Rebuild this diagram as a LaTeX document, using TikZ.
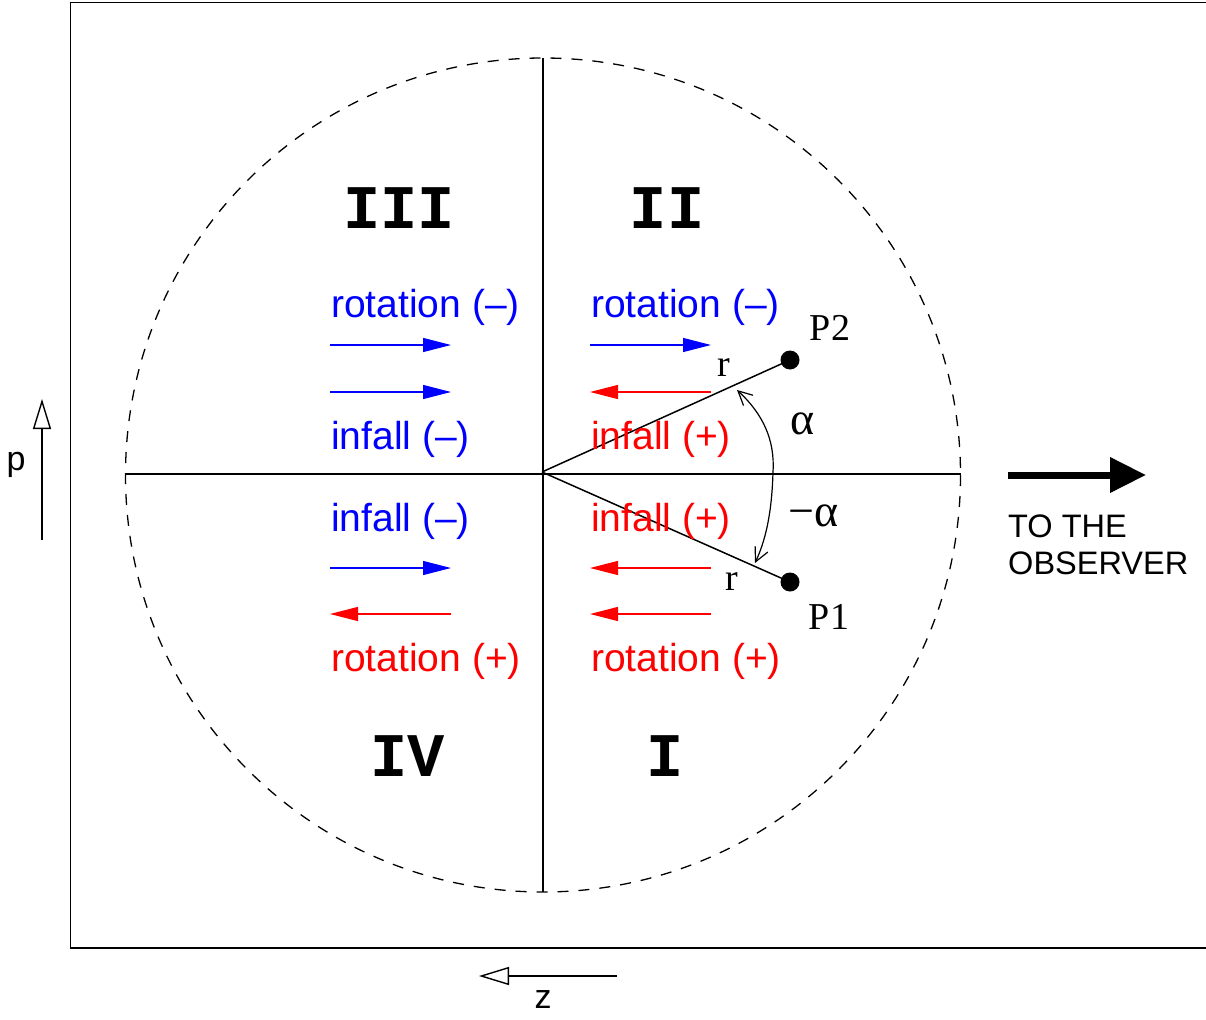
\documentclass[tikz,border=0pt]{standalone}
\usepackage{fontspec}
\setmainfont{Liberation Serif}
\setsansfont{Liberation Sans}
\setmonofont{Liberation Mono}
\usetikzlibrary{arrows.meta}
\definecolor{myblue}{RGB}{0,0,255}
\definecolor{myred}{RGB}{255,0,0}
\tikzset{
  thinline/.style={line width=1.4pt, black},
  flowarrow/.style={line width=1.3pt, -{Triangle[length=28pt,width=14pt]}},
  openarrow/.style={line width=1.4pt, -{Triangle[open,length=30pt,width=18pt,line width=1.4pt]}},
  quad/.style={font=\ttfamily\bfseries\fontsize{62}{62}\selectfont, inner sep=0pt},
  sflabel/.style={font=\sffamily\fontsize{39}{47}\selectfont, inner sep=0pt, anchor=base west},
  serlabel/.style={font=\rmfamily\fontsize{38}{40}\selectfont, inner sep=0pt},
  greeklabel/.style={font=\rmfamily\fontsize{46}{48}\selectfont, inner sep=0pt},
  axlabel/.style={font=\sffamily\fontsize{34}{36}\selectfont, inner sep=0pt},
  dotpt/.style={circle, fill=black, minimum size=19pt, inner sep=0pt},
}
\begin{document}
\begin{tikzpicture}[x=1pt, y=-1pt]
\useasboundingbox (0,0) rectangle (1206,1019);
% frame
\draw[thinline] (1206,2.5) -- (70.5,2.5) -- (70.5,948) -- (1206,948);
% dashed circle
\draw[line width=1.3pt, dash pattern=on 11pt off 10pt] (543,475) ellipse [x radius=417.5, y radius=417];
% axes
\coordinate (O) at (542,472);
\draw[thinline] (543,58) -- (543,892);
\draw[thinline] (126,474) -- (961,474);
% points
\node[dotpt] (P2) at (790,360) {};
\node[dotpt] (P1) at (790,582) {};
\draw[line width=1.5pt] (O) -- (P2.center);
\draw[line width=1.5pt] (O) -- (P1.center);
\node[serlabel] (lP2) at (830,328) {P2};
\node[serlabel] (lP1) at (829,617) {P1};
\node[serlabel] (r2) at (724,368) {r};
\node[serlabel] (r1) at (732,582) {r};
\node[greeklabel] (al) at (803,424) {α};
\node[greeklabel] (mal) at (814,516) {−α};
% angle arc
\coordinate (A1) at (737,390);
\coordinate (A2) at (773,472);
\coordinate (A3) at (755,563);
\draw[line width=1.2pt, {Straight Barb[length=14pt,width=14pt]}-{Straight Barb[length=14pt,width=14pt]}]
  (A1) .. controls (763,414) and (775,440) .. (A2) .. controls (772,505) and (768,535) .. (A3);
% quadrant labels
\node[quad] (q3) at (399,208) {III};
\node[quad] (q2) at (667,208) {II};
\node[quad] (q4) at (408,756) {IV};
\node[quad] (q1) at (665,756) {I};
% texts left
\node[sflabel, text=myblue] (t1) at (331,317) {rotation (–)};
\node[sflabel, text=myblue] (t2) at (331,449) {infall (–)};
\node[sflabel, text=myblue] (t3) at (331,531) {infall (–)};
\node[sflabel, text=myred] (t4) at (331,671) {rotation (+)};
% texts right
\node[sflabel, text=myblue] (t5) at (591,317) {rotation (–)};
\node[sflabel, text=myred] (t6) at (591,449) {infall (+)};
\node[sflabel, text=myred] (t7) at (591,531) {infall (+)};
\node[sflabel, text=myred] (t8) at (591,671) {rotation (+)};
% flow arrows
\coordinate (a1l) at (330,345); \coordinate (a1r) at (451,345);
\coordinate (a2l) at (330,392); \coordinate (a2r) at (451,392);
\coordinate (a3l) at (330,568); \coordinate (a3r) at (451,568);
\coordinate (a4l) at (330,614); \coordinate (a4r) at (451,614);
\coordinate (b1l) at (590,345); \coordinate (b1r) at (711,345);
\coordinate (b2l) at (590,392); \coordinate (b2r) at (711,392);
\coordinate (b3l) at (590,568); \coordinate (b3r) at (711,568);
\coordinate (b4l) at (590,614); \coordinate (b4r) at (711,614);
\draw[flowarrow, myblue] (a1l) -- (a1r);
\draw[flowarrow, myblue] (a2l) -- (a2r);
\draw[flowarrow, myblue] (a3l) -- (a3r);
\draw[flowarrow, myred] (a4r) -- (a4l);
\draw[flowarrow, myblue] (b1l) -- (b1r);
\draw[flowarrow, myred] (b2r) -- (b2l);
\draw[flowarrow, myred] (b3r) -- (b3l);
\draw[flowarrow, myred] (b4r) -- (b4l);
% observer arrow
\coordinate (obs1) at (1008,475);
\coordinate (obs2) at (1146,475);
\draw[line width=7pt, -{Triangle[length=36pt,width=34pt]}] (obs1) -- (obs2);
\node[font=\sffamily\fontsize{32.5}{37}\selectfont, inner sep=0pt, anchor=north west, align=left] (obst) at (1008,515) {TO THE\\OBSERVER};
% p axis
\coordinate (p1) at (42,540);
\coordinate (p2) at (42,399);
\draw[openarrow] (p1) -- (p2);
\node[axlabel] (pl) at (16,465) {p};
% z axis
\coordinate (z1) at (617,976);
\coordinate (z2) at (479,976);
\draw[openarrow] (z1) -- (z2);
\node[axlabel] (zl) at (543,1000) {z};
\end{tikzpicture}
\end{document}
